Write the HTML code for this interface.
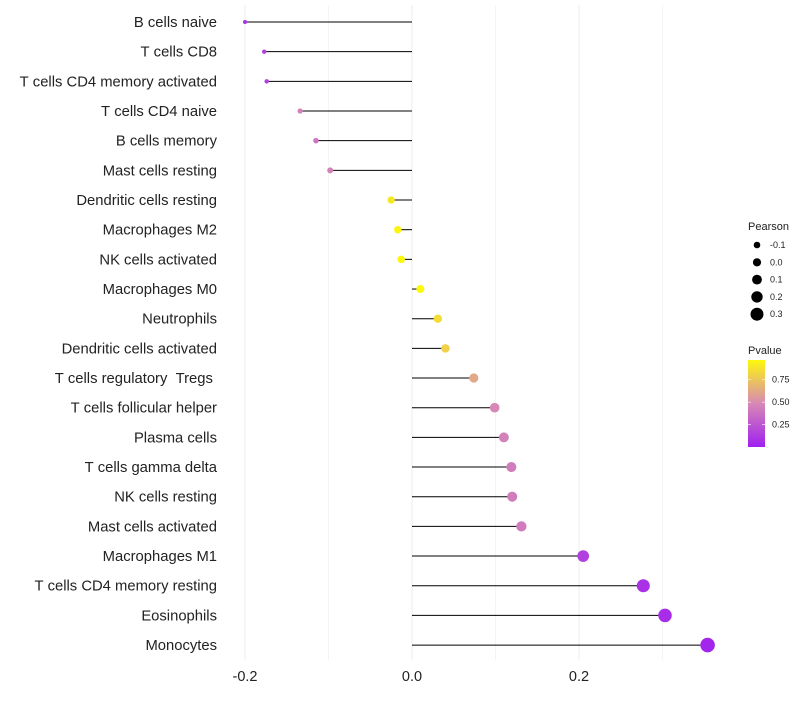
<!DOCTYPE html>
<html><head><meta charset="utf-8"><style>
body{margin:0;background:#fff;font-family:"Liberation Sans",sans-serif}
</style></head><body>
<svg id="chart" width="800" height="700" xmlns="http://www.w3.org/2000/svg" font-family="Liberation Sans, sans-serif"></svg>
<script>
const categories=["B cells naive","T cells CD8","T cells CD4 memory activated","T cells CD4 naive","B cells memory","Mast cells resting","Dendritic cells resting","Macrophages M2","NK cells activated","Macrophages M0","Neutrophils","Dendritic cells activated","T cells regulatory  Tregs ","T cells follicular helper","Plasma cells","T cells gamma delta","NK cells resting","Mast cells activated","Macrophages M1","T cells CD4 memory resting","Eosinophils","Monocytes"];
const pearson=[-0.2,-0.177,-0.174,-0.134,-0.115,-0.098,-0.025,-0.017,-0.013,0.010,0.031,0.040,0.074,0.099,0.110,0.119,0.120,0.131,0.205,0.277,0.303,0.354];
const pvalues=[0.08,0.15,0.15,0.45,0.4,0.45,0.9,0.95,0.97,0.98,0.85,0.8,0.62,0.48,0.45,0.43,0.43,0.42,0.15,0.08,0.06,0.03];
const xTicks=[-0.2,0.0,0.2];
const xTickLabels=["-0.2","0.0","0.2"];
const gridMinor=[-0.1,0.1,0.3];
const sizeLegend=[-0.1,0.0,0.1,0.2,0.3];
const sizeLegendLabels=["-0.1","0.0","0.1","0.2","0.3"];
const pLegend=[0.25,0.5,0.75];
const pLegendLabels=["0.25","0.50","0.75"];

const svg=document.getElementById('chart');const NS="http://www.w3.org/2000/svg";
function x(v){return 412+v*835;}
function y(i){return 22+i*29.67;}
function r(v){return 2+(v+0.2)*9.5;}
function col(p){
  const a=[160,32,240],m=[217,140,179],b=[255,255,0];let c;
  if(p<0.5){const t=p/0.5;c=a.map((v,k)=>v+(m[k]-v)*t);}else{const t=(p-0.5)/0.5;c=m.map((v,k)=>v+(b[k]-v)*t);}
  return `rgb(${c.map(Math.round).join(',')})`;
}
function el(t,at,txt){const e=document.createElementNS(NS,t);for(const k in at)e.setAttribute(k,at[k]);if(txt!==undefined)e.textContent=txt;svg.appendChild(e);return e;}
[...xTicks,...gridMinor].forEach(v=>{
  const g=el('line',{x1:x(v),x2:x(v),y1:5,y2:660,stroke:'#ececec','stroke-width':xTicks.includes(v)?1:0.6});
  
  
});
xTicks.forEach((v,i)=>{
  const t=el('text',{x:x(v),y:681,'font-size':14.5,'text-anchor':'middle',fill:'#222'},xTickLabels[i]);
  
  
});
categories.forEach((c,i)=>{
  const t=el('text',{x:217,y:y(i)+5,'font-size':14.8,'text-anchor':'end',fill:'#222'},c.replace(/ /g,'\u00a0'));
  
  
  const l=el('line',{x1:x(0),x2:x(pearson[i]),y1:y(i),y2:y(i),stroke:'#000','stroke-width':1});
  
  
  const p=el('circle',{cx:x(pearson[i]),cy:y(i),r:r(pearson[i]),fill:col(pvalues[i])});
  
  
});
const st=el('text',{x:748,y:230,'font-size':11,fill:'#222'},'Pearson');


sizeLegend.forEach((v,i)=>{
  const cy=245+i*17.3;
  const c=el('circle',{cx:757,cy:cy,r:3.3+i*0.8,fill:'#000'});
  
  
  const t=el('text',{x:770,y:cy+3,'font-size':9,fill:'#222'},sizeLegendLabels[i]);
  
  
});
const pt=el('text',{x:748,y:354,'font-size':11,fill:'#222'},'Pvalue');


const defs=el('defs',{});
const lg=document.createElementNS(NS,'linearGradient');lg.setAttribute('id','pg');lg.setAttribute('x1','0');lg.setAttribute('y1','1');lg.setAttribute('x2','0');lg.setAttribute('y2','0');
[0,0.25,0.5,0.75,1].forEach(o=>{const s=document.createElementNS(NS,'stop');s.setAttribute('offset',o);s.setAttribute('stop-color',col(o*0.97));lg.appendChild(s);});
defs.appendChild(lg);
const bar=el('rect',{x:748,y:360,width:17,height:87,fill:'url(#pg)'});


pLegend.forEach((v,i)=>{
  const yy=447-v/0.97*87;
  el('line',{x1:748,x2:751,y1:yy,y2:yy,stroke:'#fff','stroke-width':0.6});
  el('line',{x1:762,x2:765,y1:yy,y2:yy,stroke:'#fff','stroke-width':0.6});
  const t=el('text',{x:772,y:yy+3,'font-size':9,fill:'#222'},pLegendLabels[i]);
  
  
});
</script>
</body></html>
